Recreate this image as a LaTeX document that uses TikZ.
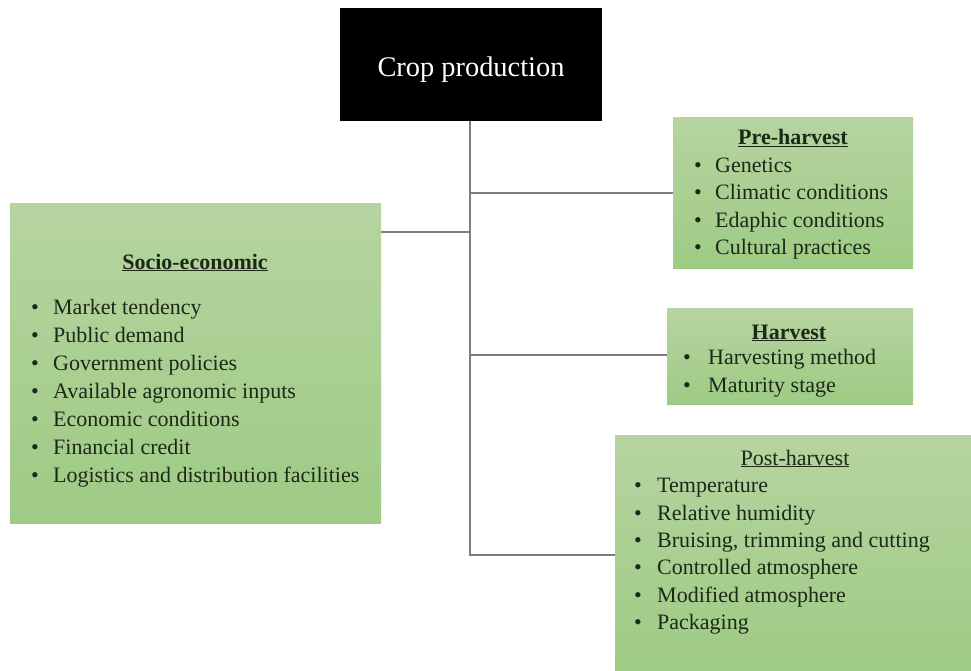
\documentclass[tikz,border=0pt]{standalone}
\usepackage{fontspec}
\setmainfont{Liberation Serif}
\begin{document}
\begin{tikzpicture}[x=1pt,y=-1pt,
  gbox/.style={rectangle, draw=none, top color=boxtop, bottom color=boxbot, inner sep=0pt, anchor=north west},
  conn/.style={draw=linegray, line width=1.8pt},
  itemtxt/.style={anchor=base west, inner sep=0pt, text=txtcol, font=\fontsize{22}{28}\selectfont},
  headtxt/.style={anchor=base, inner sep=0pt, text=txtcol, font=\fontsize{22}{28}\selectfont}
]
\definecolor{boxtop}{RGB}{182,212,160}
\definecolor{boxbot}{RGB}{158,203,132}
\definecolor{linegray}{RGB}{125,125,125}
\definecolor{txtcol}{RGB}{28,40,24}
\useasboundingbox (0,0) rectangle (971,671);
\fill[white] (0,0) rectangle (971,671);

% top node
\node[fill=black, minimum width=262pt, minimum height=113pt, anchor=north west, inner sep=0pt] (crop) at (340,8) {};
\node[text=white, font=\fontsize{28.4}{30}\selectfont, anchor=base, inner sep=0pt] (croptxt) at (471,77) {Crop production};

% boxes
\node[gbox, minimum width=240pt, minimum height=151pt] (pre) at (673,117) {};
\node[gbox, minimum width=371pt, minimum height=320pt] (soc) at (10,203) {};
\node[gbox, minimum width=246pt, minimum height=96pt] (har) at (667,308) {};
\node[gbox, minimum width=356pt, minimum height=236pt] (post) at (615,435) {};

% connectors
\coordinate (top) at (470,121);
\coordinate (jpre) at (470,193);
\coordinate (jsoc) at (470,232);
\coordinate (jhar) at (470,355);
\coordinate (jpost) at (470,555);
\draw[conn] (crop.south -| top) -- (jpost) -- (jpost -| post.west);
\draw[conn] (jpre) -- (jpre -| pre.west);
\draw[conn] (jsoc) -- (jsoc -| soc.east);
\draw[conn] (jhar) -- (jhar -| har.west);

\newcommand{\bul}[1]{\makebox[#1][l]{•}}

% Pre-harvest
\node[headtxt] (preh) at (793,145) {\underline{\textbf{Pre-harvest}}};
\node[itemtxt] (pre1) at (694,172) {\bul{21pt}Genetics};
\node[itemtxt] (pre2) at (694,200) {\bul{21pt}Climatic conditions};
\node[itemtxt] (pre3) at (694,227) {\bul{21pt}Edaphic conditions};
\node[itemtxt] (pre4) at (694,254) {\bul{21pt}Cultural practices};

% Socio-economic
\node[headtxt] (soch) at (195,269) {\underline{\textbf{Socio-economic}}};
\node[itemtxt] (soc1) at (31,314) {\bul{22pt}Market tendency};
\node[itemtxt] (soc2) at (31,342) {\bul{22pt}Public demand};
\node[itemtxt] (soc3) at (31,370) {\bul{22pt}Government policies};
\node[itemtxt] (soc4) at (31,398) {\bul{22pt}Available agronomic inputs};
\node[itemtxt] (soc5) at (31,426) {\bul{22pt}Economic conditions};
\node[itemtxt] (soc6) at (31,454) {\bul{22pt}Financial credit};
\node[itemtxt] (soc7) at (31,482) {\bul{22pt}Logistics and distribution facilities};

% Harvest
\node[headtxt] (harh) at (789,339) {\underline{\textbf{Harvest}}};
\node[itemtxt] (har1) at (683,364) {\bul{25pt}Harvesting method};
\node[itemtxt] (har2) at (683,392) {\bul{25pt}Maturity stage};

% Post-harvest
\node[headtxt] (posth) at (795,465) {\underline{Post-harvest}};
\node[itemtxt] (post1) at (634,492) {\bul{23pt}Temperature};
\node[itemtxt] (post2) at (634,520) {\bul{23pt}Relative humidity};
\node[itemtxt] (post3) at (634,547) {\bul{23pt}Bruising, trimming and cutting};
\node[itemtxt] (post4) at (634,574) {\bul{23pt}Controlled atmosphere};
\node[itemtxt] (post5) at (634,602) {\bul{23pt}Modified atmosphere};
\node[itemtxt] (post6) at (634,629) {\bul{23pt}Packaging};
\end{tikzpicture}
\end{document}
